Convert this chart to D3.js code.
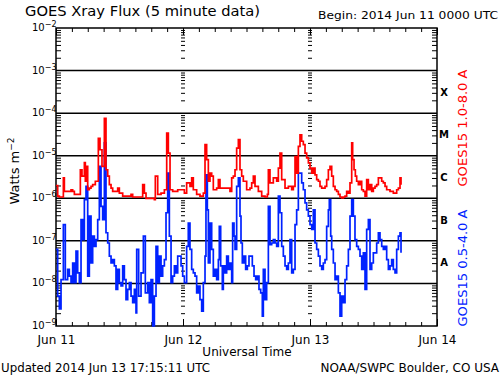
<!DOCTYPE html>
<html>
<head>
<meta charset="utf-8">
<title>GOES Xray Flux</title>
<script src="https://d3js.org/d3.v7.min.js"></script>
<style>
  body { margin: 0; background: #fff; }
  text { font-family: "DejaVu Sans", sans-serif; fill: #000; }
</style>
</head>
<body>
<div id="chart"></div>
<script>
// hours since 2014 Jun 11 00:00 UTC, and log10 of flux (W m^-2)
var longHours = [0, 0.32, 0.63, 1.26, 1.39, 1.58, 2.2, 2.84, 3.15, 3.47,
  4.1, 4.6, 4.91, 5.17, 5.36, 5.54, 5.67, 5.99, 6.3, 6.62,
  6.93, 7.43, 7.69, 8.0, 8.32, 8.69, 9.14, 9.45, 9.77, 10.08,
  10.4, 10.71, 11.34, 11.66, 11.97, 12.6, 13.86, 14.18, 14.49, 15.75,
  16.38, 16.7, 17.01, 18.59, 18.77, 19.22, 19.85, 20.48, 20.92, 21.23,
  21.55, 22.05, 22.68, 23.0, 23.63, 24.26, 24.69, 25.32, 25.64, 25.95,
  26.58, 27.21, 27.84, 28.16, 28.47, 28.79, 29.1, 29.42, 29.73, 30.36,
  30.68, 30.99, 31.62, 32.25, 32.88, 33.2, 33.51, 33.83, 34.14, 34.46,
  34.77, 35.09, 35.4, 36.03, 36.66, 36.98, 37.29, 37.61, 38.24, 38.87,
  39.5, 39.94, 40.13, 40.44, 41.07, 41.7, 42.02, 42.33, 42.65, 43.28,
  43.91, 44.54, 44.85, 45.17, 45.48, 45.8, 46.11, 46.43, 46.74, 47.06,
  47.37, 47.69, 48.0, 48.32, 48.63, 48.95, 49.26, 49.58, 49.89, 50.21,
  50.52, 50.84, 51.15, 51.47, 51.78, 52.1, 52.41, 52.73, 53.04, 53.36,
  53.67, 53.99, 54.3, 54.62, 54.93, 55.25, 55.56, 55.88, 56.06, 56.32,
  56.57, 56.82, 57.14, 57.45, 57.77, 58.08, 58.4, 58.71, 59.03, 59.34,
  59.66, 59.97, 60.29, 60.6, 60.92, 61.23, 61.55, 61.86, 62.18, 62.49,
  63.12, 63.75, 64.38, 64.7, 65.01, 65.2];
var longExp = [-5.70, -5.95, -5.97, -5.97, -5.52, -5.84, -5.84, -5.80, -5.84, -5.91,
  -5.91, -5.33, -5.48, -5.48, -5.16, -5.60, -5.25, -5.80, -5.76, -5.72,
  -5.68, -5.60, -5.60, -4.59, -4.86, -5.25, -4.12, -5.33, -5.48, -5.68,
  -5.76, -5.84, -5.84, -5.76, -5.88, -5.95, -5.95, -5.91, -5.97, -5.97,
  -5.68, -5.88, -6.0, -6.03, -5.48, -5.91, -5.88, -5.80, -4.47, -4.94,
  -5.80, -5.84, -5.84, -5.80, -5.80, -5.88, -5.64, -5.72, -5.52, -5.80,
  -5.91, -5.95, -5.88, -4.74, -5.09, -5.60, -5.41, -5.48, -5.80, -5.76,
  -5.56, -5.76, -5.76, -5.76, -5.84, -5.52, -5.48, -5.33, -4.82, -4.62,
  -5.33, -5.48, -5.60, -5.80, -5.76, -5.64, -5.48, -5.72, -5.84, -5.95,
  -5.97, -5.91, -5.33, -5.64, -5.52, -5.60, -5.29, -4.94, -5.56, -5.76,
  -5.72, -5.80, -5.72, -5.02, -5.41, -4.78, -4.51, -4.66, -4.74, -4.94,
  -5.05, -5.17, -5.29, -5.41, -5.29, -5.45, -5.56, -5.60, -5.72, -5.76,
  -5.76, -5.72, -5.56, -5.33, -5.25, -5.48, -5.72, -5.80, -5.84, -5.91,
  -5.97, -5.99, -5.97, -5.95, -5.84, -5.88, -5.64, -4.70, -5.09, -5.33,
  -5.48, -5.60, -5.68, -5.60, -5.80, -5.84, -5.95, -5.56, -5.80, -5.68,
  -5.84, -5.76, -5.72, -5.68, -5.52, -5.52, -5.60, -5.64, -5.72, -5.80,
  -5.84, -5.88, -5.80, -5.76, -5.52, -5.68];

var shortHours = [0, 0.32, 0.63, 0.95, 1.39, 1.76, 2.2, 2.52, 2.84, 3.15,
  3.47, 3.78, 4.1, 4.41, 4.73, 5.04, 5.36, 5.67, 5.99, 6.3,
  6.62, 6.93, 7.25, 7.56, 7.88, 8.19, 8.51, 8.82, 9.14, 9.45,
  9.77, 10.08, 10.4, 10.71, 11.03, 11.34, 11.66, 11.97, 12.29, 12.6,
  12.92, 13.23, 13.55, 13.86, 14.18, 14.49, 14.81, 15.12, 15.25, 15.62,
  16.07, 16.51, 16.88, 17.33, 17.64, 17.96, 18.27, 18.59, 18.9, 19.22,
  19.53, 19.85, 20.16, 20.48, 20.79, 21.11, 21.42, 21.74, 22.05, 22.37,
  22.68, 23.0, 23.31, 23.63, 23.94, 24.26, 24.69, 25.0, 25.32, 25.64,
  25.95, 26.27, 26.58, 26.9, 27.21, 27.53, 27.84, 28.16, 28.34, 28.6,
  28.79, 29.1, 29.42, 29.73, 30.05, 30.36, 30.68, 30.86, 31.12, 31.43,
  31.62, 31.94, 32.25, 32.57, 32.88, 33.2, 33.38, 33.64, 33.83, 34.14,
  34.46, 34.77, 34.96, 35.21, 35.53, 35.84, 36.16, 36.47, 36.79, 37.1,
  37.42, 37.73, 38.05, 38.36, 38.68, 38.99, 39.18, 39.5, 39.81, 40.13,
  40.44, 40.76, 41.07, 41.39, 41.7, 42.02, 42.33, 42.65, 42.96, 43.28,
  43.59, 43.91, 44.22, 44.54, 44.85, 45.17, 45.48, 45.8, 46.11, 46.43,
  46.74, 47.06, 47.37, 47.69, 48.0, 48.32, 48.63, 48.95, 49.26, 49.58,
  49.89, 50.21, 50.52, 50.84, 51.15, 51.47, 51.65, 51.91, 52.1, 52.41,
  52.73, 53.04, 53.36, 53.67, 53.99, 54.3, 54.62, 54.93, 55.25, 55.56,
  55.88, 56.19, 56.5, 56.82, 57.14, 57.45, 57.77, 58.08, 58.4, 58.71,
  59.03, 59.34, 59.66, 59.97, 60.29, 60.6, 60.92, 61.23, 61.55, 61.86,
  62.18, 62.49, 62.81, 63.12, 63.43, 63.75, 64.07, 64.38, 64.7, 65.01, 65.2];
var shortExp = [-7.20, -8.30, -8.60, -7.91, -6.62, -7.91, -7.67, -7.83, -7.98, -7.52,
  -7.98, -7.24, -7.75, -7.98, -6.50, -6.97, -6.03, -5.72, -7.83, -6.42,
  -7.52, -6.89, -7.13, -6.97, -6.50, -5.25, -6.19, -6.50, -4.70, -6.81,
  -7.05, -7.36, -7.52, -7.44, -7.59, -8.14, -7.67, -7.98, -8.06, -7.59,
  -7.91, -8.38, -8.14, -7.98, -8.30, -8.45, -8.14, -8.69, -7.20, -8.30,
  -7.75, -6.89, -8.22, -7.98, -8.45, -7.91, -9.0, -8.30, -7.13, -7.98,
  -7.36, -7.83, -7.59, -7.44, -6.34, -5.41, -6.89, -7.98, -7.83, -7.59,
  -7.75, -7.36, -7.36, -7.59, -7.83, -7.98, -7.13, -6.58, -7.20, -7.67,
  -7.75, -7.83, -8.22, -8.06, -8.38, -8.65, -7.98, -7.36, -5.45, -6.27,
  -7.52, -6.58, -7.20, -7.83, -7.67, -7.91, -7.44, -6.66, -7.59, -8.14,
  -7.59, -7.75, -7.36, -7.67, -7.52, -7.98, -6.58, -6.89, -7.20, -5.72,
  -5.52, -6.42, -7.05, -7.52, -7.36, -7.67, -7.59, -7.36, -7.36, -7.59,
  -7.83, -7.91, -7.83, -8.14, -8.22, -8.77, -7.67, -8.38, -7.98, -6.19,
  -7.09, -7.05, -6.97, -7.05, -7.13, -5.95, -6.34, -7.13, -7.36, -7.59,
  -7.67, -7.52, -6.97, -7.75, -7.67, -6.62, -6.27, -5.41, -5.41, -5.64,
  -5.80, -6.11, -6.27, -6.42, -6.62, -6.73, -6.27, -7.05, -7.20, -7.36,
  -7.59, -7.67, -7.52, -7.44, -6.66, -6.27, -6.03, -6.89, -7.20, -7.52,
  -7.91, -7.83, -8.22, -8.77, -8.30, -8.45, -7.91, -7.59, -7.20, -6.42,
  -6.03, -6.42, -6.97, -7.13, -7.20, -7.36, -7.67, -7.28, -8.14, -6.73,
  -6.50, -7.67, -7.52, -7.28, -7.28, -7.05, -6.81, -6.97, -7.13, -7.20,
  -7.13, -7.44, -7.67, -7.59, -7.44, -7.67, -7.75, -7.20, -6.89, -6.81, -7.28];

var decades = [-9, -8, -7, -6, -5, -4, -3, -2];
var flareClasses = ["A", "B", "C", "M", "X"];   // from 1e-8 upward
var dayLabels = ["Jun 11", "Jun 12", "Jun 13", "Jun 14"];

var width = 500, height = 375;
var plotLeft = 56, plotRight = 437, plotTop = 28, plotBottom = 326;

var svg = d3.select("#chart").append("svg")
  .attr("width", width).attr("height", height);

var t0 = Date.UTC(2014, 5, 11), t1 = Date.UTC(2014, 5, 14);
var x = d3.scaleUtc().domain([t0, t1]).range([plotLeft, plotRight]);
var y = d3.scaleLog().domain([1e-9, 1e-2]).range([plotBottom, plotTop]);

function toPoints(hours, exps) {
  return hours.map(function(h, i) {
    return { t: t0 + h * 3600e3, v: Math.pow(10, exps[i]) };
  });
}

// minor log ticks 2..9 per decade
var minor = [];
decades.slice(0, -1).forEach(function(d) {
  for (var k = 2; k <= 9; k++) minor.push(k * Math.pow(10, d));
});

// grid lines at the inner decades
svg.append("g").selectAll("line")
  .data(decades.slice(1, -1))
  .join("line")
  .attr("x1", plotLeft).attr("x2", plotRight)
  .attr("y1", function(d) { return y(Math.pow(10, d)); })
  .attr("y2", function(d) { return y(Math.pow(10, d)); })
  .attr("stroke", "#000").attr("stroke-width", 1.5);

// axes with inward ticks
function styleAxis(g) {
  g.select(".domain").remove();
  g.selectAll(".tick line").attr("stroke", "#000");
}
svg.append("g").attr("transform", "translate(" + plotLeft + ",0)")
  .call(d3.axisLeft(y).tickValues(minor).tickSize(-5).tickFormat(""))
  .call(styleAxis);
svg.append("g").attr("transform", "translate(" + plotRight + ",0)")
  .call(d3.axisRight(y).tickValues(minor).tickSize(-5).tickFormat(""))
  .call(styleAxis);

// dashes on the day boundaries
[1, 2].forEach(function(dd) {
  svg.append("g").attr("transform", "translate(" + (x(t0 + dd * 864e5) - 2) + ",0)")
    .call(d3.axisRight(y).tickValues(minor).tickSize(4).tickFormat(""))
    .call(styleAxis);
});

var hours3 = d3.utcHour.every(3).range(new Date(t0), new Date(t1));
svg.append("g").attr("transform", "translate(0," + plotBottom + ")")
  .call(d3.axisBottom(x).tickValues(hours3).tickSize(-4).tickFormat(""))
  .call(styleAxis);
svg.append("g").attr("transform", "translate(0," + plotTop + ")")
  .call(d3.axisTop(x).tickValues(hours3).tickSize(-4).tickFormat(""))
  .call(styleAxis);

var days = d3.utcDay.range(new Date(t0), new Date(t1 + 1));
svg.append("g").attr("transform", "translate(0," + plotBottom + ")")
  .call(d3.axisBottom(x).tickValues(days).tickSize(-7).tickPadding(9)
    .tickFormat(function(d, i) { return dayLabels[i]; }))
  .call(styleAxis)
  .call(function(g) {
    g.selectAll("text").attr("font-size", 12).attr("font-family", "DejaVu Sans").attr("fill", "#000");
  });
svg.append("g").attr("transform", "translate(0," + plotTop + ")")
  .call(d3.axisTop(x).tickValues(days).tickSize(-7).tickFormat(""))
  .call(styleAxis);

// frame
svg.append("rect")
  .attr("x", plotLeft).attr("y", plotTop)
  .attr("width", plotRight - plotLeft).attr("height", plotBottom - plotTop)
  .attr("fill", "none").attr("stroke", "#000").attr("stroke-width", 1.5);

// series
var line = d3.line()
  .x(function(d) { return x(d.t); })
  .y(function(d) { return y(d.v); })
  .curve(d3.curveStepAfter);

svg.append("path").datum(toPoints(shortHours, shortExp))
  .attr("fill", "none").attr("stroke", "#0022ff").attr("stroke-width", 1.7)
  .attr("d", line);
svg.append("path").datum(toPoints(longHours, longExp))
  .attr("fill", "none").attr("stroke", "#ff0000").attr("stroke-width", 1.7)
  .attr("d", line);

// decade labels
var yl = svg.append("g").selectAll("text")
  .data(decades).join("text")
  .attr("x", 32)
  .attr("y", function(d) { return y(Math.pow(10, d)) + 3; })
  .attr("font-size", 10);
yl.append("tspan").text("10");
yl.append("tspan").attr("dy", -4).attr("font-size", 8)
  .text(function(d) { return "\u2212" + (-d); });

// flare class letters
svg.append("g").selectAll("text")
  .data(flareClasses).join("text")
  .attr("x", 444)
  .attr("y", function(d, i) { return y(Math.pow(10, -7.5 + i)) + 4; })
  .attr("text-anchor", "middle")
  .attr("font-family", "DejaVu Serif").attr("font-weight", "bold")
  .attr("font-size", 10)
  .text(function(d) { return d; });

// rotated legends
svg.append("text")
  .attr("transform", "translate(467,128) rotate(-90)")
  .attr("text-anchor", "middle").attr("font-size", 13)
  .attr("textLength", 117).attr("lengthAdjust", "spacingAndGlyphs")
  .style("fill", "#ff0000")
  .text("GOES15 1.0-8.0 A");
svg.append("text")
  .attr("transform", "translate(467,268) rotate(-90)")
  .attr("text-anchor", "middle").attr("font-size", 13)
  .attr("textLength", 117).attr("lengthAdjust", "spacingAndGlyphs")
  .style("fill", "#0022ff")
  .text("GOES15 0.5-4.0 A");

// y-axis title
var yt = svg.append("text")
  .attr("transform", "translate(19,171) rotate(-90)")
  .attr("text-anchor", "middle").attr("font-size", 13);
yt.append("tspan").text("Watts m");
yt.append("tspan").attr("dy", -5).attr("font-size", 9).text("\u22122");

// titles and footers
svg.append("text").attr("x", 25).attr("y", 16).attr("font-size", 14)
  .attr("textLength", 235).attr("lengthAdjust", "spacingAndGlyphs")
  .text("GOES Xray Flux (5 minute data)");
svg.append("text").attr("x", 318).attr("y", 19).attr("font-size", 11)
  .attr("textLength", 180).attr("lengthAdjust", "spacingAndGlyphs")
  .text("Begin:  2014 Jun 11 0000 UTC");
svg.append("text").attr("x", 247).attr("y", 356).attr("font-size", 12)
  .attr("text-anchor", "middle")
  .text("Universal Time");
svg.append("text").attr("x", 1).attr("y", 372).attr("font-size", 12)
  .attr("textLength", 209).attr("lengthAdjust", "spacingAndGlyphs")
  .text("Updated 2014 Jun 13 17:15:11 UTC");
svg.append("text").attr("x", 499).attr("y", 372).attr("font-size", 12)
  .attr("text-anchor", "end")
  .text("NOAA/SWPC Boulder, CO USA");
</script>
</body>
</html>
